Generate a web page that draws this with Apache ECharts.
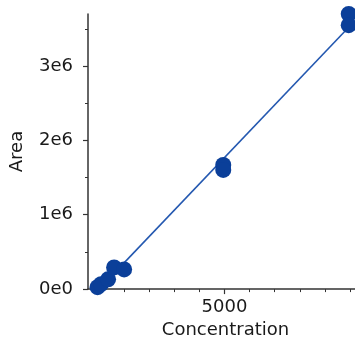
<!DOCTYPE html>
<html>
<head>
<meta charset="utf-8">
<script src="https://cdn.jsdelivr.net/npm/echarts@6/dist/echarts.min.js"></script>
<style>
html,body{margin:0;padding:0;background:#fff;}
#chart{width:355px;height:344px;}
</style>
</head>
<body>
<div id="chart"></div>
<script>
// Data
var concentration = [-60, 80, 360, 600, 1000, 4950, 4950, 9950, 9950];
var area = [26000, 66000, 132000, 291000, 265000, 1669000, 1603000, 3700000, 3550000];
var fitX = [0, 9950];
var fitY = [0, 3522000];
var xMajorTicks = [5000];
var xMinorTicks = [0, 1000, 2000, 3000, 4000, 6000, 7000, 8000, 9000, 10000];
var yMajorTicks = [0, 1000000, 2000000, 3000000];
var yMinorTicks = [500000, 1500000, 2500000, 3500000];
var xName = 'Concentration';
var yName = 'Area';

var font = 'DejaVu Sans';
var textColor = '#1a1a1a';
var axisColor = '#333';

function pairs(xs, ys){ return xs.map(function(x,i){ return [x, ys[i]]; }); }
function yFmt(v){
  if (v === 0) return '0e0';
  var e = Math.floor(Math.log10(Math.abs(v)));
  var m = Math.round(v / Math.pow(10, e));
  return m + 'e' + e;
}
function xFmt(v){ return String(v); }

var chart = echarts.init(document.getElementById('chart'), null, {renderer:'canvas'});
chart.setOption({
  animation:false,
  backgroundColor:'#fff',
  grid:{left:87, right:0, top:14, bottom:51},
  xAxis:[{
    type:'value', min:-440, max:10200,
    name:xName, nameLocation:'middle', nameGap:28,
    nameTextStyle:{fontFamily:font, fontSize:18, color:textColor, padding:[0,0,0,8]},
    axisLine:{show:true, onZero:false, lineStyle:{color:axisColor, width:1.5}},
    axisTick:{show:true, length:5, customValues:xMajorTicks, lineStyle:{color:axisColor, width:1.2}},
    axisLabel:{show:true, customValues:xMajorTicks, margin:9, fontFamily:font, fontSize:18, color:textColor, formatter:xFmt},
    splitLine:{show:false}
  },{
    type:'value', min:-440, max:10200, position:'bottom',
    axisLine:{show:false, onZero:false},
    axisTick:{show:true, length:3, customValues:xMinorTicks, lineStyle:{color:axisColor, width:1}},
    axisLabel:{show:false},
    splitLine:{show:false}
  }],
  yAxis:[{
    type:'value', min:0, max:3700000,
    name:yName, nameLocation:'middle', nameGap:62, nameRotate:90,
    nameTextStyle:{fontFamily:font, fontSize:18, color:textColor},
    axisLine:{show:true, onZero:false, lineStyle:{color:axisColor, width:1.5}},
    axisTick:{show:true, length:5, customValues:yMajorTicks, lineStyle:{color:axisColor, width:1.2}},
    axisLabel:{show:true, customValues:yMajorTicks, margin:15, fontFamily:font, fontSize:18, color:textColor, formatter:yFmt},
    splitLine:{show:false}
  },{
    type:'value', min:0, max:3700000, position:'left',
    axisLine:{show:false, onZero:false},
    axisTick:{show:true, length:3, customValues:yMinorTicks, lineStyle:{color:axisColor, width:1}},
    axisLabel:{show:false},
    splitLine:{show:false}
  }],
  series:[{
    type:'line', data:pairs(fitX, fitY), showSymbol:false, symbol:'none',
    lineStyle:{color:'#2458b0', width:1.6}, z:2
  },{
    type:'scatter', data:pairs(concentration, area), symbolSize:16,
    itemStyle:{color:'#0b3f99', opacity:1}, z:3
  }]
});
</script>
</body>
</html>
